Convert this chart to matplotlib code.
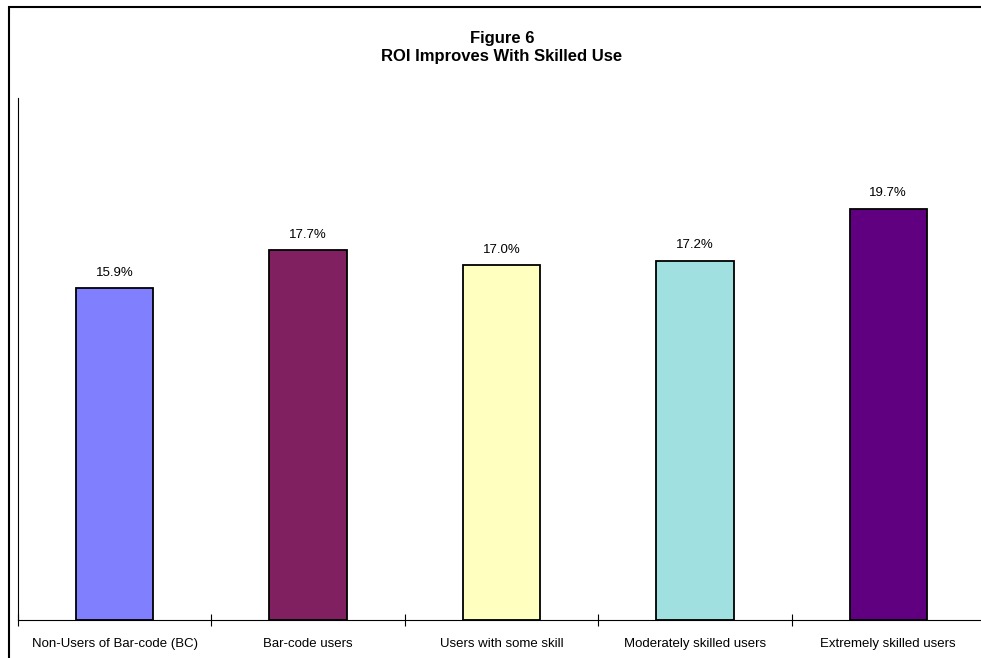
import matplotlib
matplotlib.use("Agg")
import matplotlib.pyplot as plt
from matplotlib.patches import Rectangle

plt.rcParams['font.family'] = ['Liberation Sans', 'DejaVu Sans']

categories = ["Non-Users of Bar-code (BC)", "Bar-code users", "Users with some skill",
              "Moderately skilled users", "Extremely skilled users"]
roi = [15.9, 17.7, 17.0, 17.2, 19.7]
colors = ["#8080FF", "#802060", "#FFFFC0", "#A0E0E0", "#600080"]

fig = plt.figure(figsize=(9.81, 6.58), dpi=100)
W, H = 981, 658

# outer chart border (runs off the right/bottom edge like the original)
fig.patches.append(Rectangle((9 / W, -0.05), 1.05, (658 - 7) / H + 0.05, transform=fig.transFigure,
                             fill=False, edgecolor="black", linewidth=1.5))

ax = fig.add_axes([18 / W, 38 / H, (985 - 18) / W, 522 / H])
x = list(range(len(categories)))
bars = ax.bar(x, roi, width=0.4, color=colors, edgecolor="black", linewidth=1.3)
for xi, v in zip(x, roi):
    ax.text(xi, v + 0.45, f"{v:.1f}%", ha="center", va="bottom", fontsize=9.5)

ax.set_xlim(-0.5, len(categories) - 0.5)
ax.set_ylim(0, 25)
ax.spines["top"].set_visible(False)
ax.spines["right"].set_visible(False)
ax.set_yticks([])
ax.set_xticks(x)
ax.set_xticklabels(categories, fontsize=9.5)
ax.tick_params(axis="x", length=0, pad=13)
ax.set_xticks([i + 0.5 for i in range(-1, len(categories))], minor=True)
ax.tick_params(axis="x", which="minor", direction="inout", length=9, width=0.8)

fig.text(502 / W, 1 - 38 / H, "Figure 6", ha="center", va="center", fontsize=12, fontweight="bold")
fig.text(502 / W, 1 - 57 / H, "ROI Improves With Skilled Use", ha="center", va="center",
         fontsize=12, fontweight="bold")

fig.savefig("out.png", dpi=100)
